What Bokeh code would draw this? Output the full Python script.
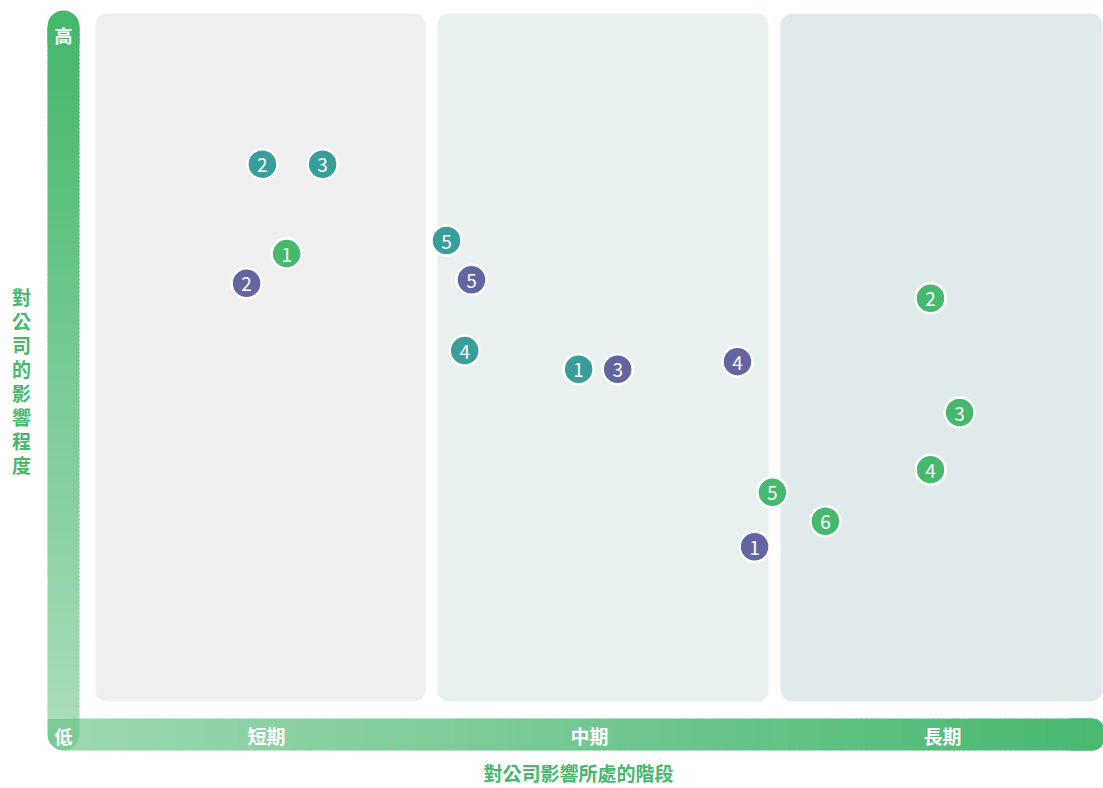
from bokeh.plotting import figure
from bokeh.models import Range1d
from bokeh.embed import file_html
from bokeh.resources import INLINE
from bokeh.core.properties import value

# ---------------- data ----------------
periods = ["短期", "中期", "長期"]
period_label_t = [0.517, 1.461, 2.492]
y_title = "對公司的影響程度"
x_title = "對公司影響所處的階段"
high_label = "高"
low_label = "低"

# time position (0-1 短期, 1-2 中期, 2-3 長期), impact level (0 low - 10 high)
teal_labels = ["1", "2", "3", "4", "5"]
teal_t = [1.429, 0.505, 0.681, 1.096, 1.043]
teal_v = [4.83, 7.81, 7.81, 5.10, 6.70]

purple_labels = ["1", "2", "3", "4", "5"]
purple_t = [1.943, 0.459, 1.543, 1.893, 1.116]
purple_v = [2.25, 6.08, 4.83, 4.94, 6.13]

green_labels = ["1", "2", "3", "4", "5", "6"]
green_t = [0.576, 2.457, 2.542, 2.457, 1.995, 2.150]
green_v = [6.51, 5.86, 4.20, 3.37, 3.04, 2.62]

TEAL = "#379e9b"
PURPLE = "#6365a1"
GREEN = "#46b96e"
FONT = "Noto Sans CJK TC"

# ---------------- layout helpers (canvas pixel -> data units) ----------------
X0, XU = 89.0, 342.3
Y0, YU = 701.0, 68.8


def T(px):
    return (px - X0) / XU


def V(py):
    return (Y0 - py) / YU


W, H = 1103, 788
p = figure(width=W, height=H, output_backend="svg", toolbar_location=None,
           x_range=Range1d(T(0), T(W)), y_range=Range1d(V(H), V(0)),
           min_border=0, outline_line_color=None, background_fill_color="white")
p.axis.visible = False
p.grid.visible = False


def hexrgb(h):
    h = h.lstrip("#")
    return tuple(int(h[i:i + 2], 16) for i in (0, 2, 4))


def lerp(c1, c2, f):
    a, b = hexrgb(c1), hexrgb(c2)
    return "#%02x%02x%02x" % tuple(round(a[i] + (b[i] - a[i]) * f) for i in range(3))


# panels
panel_l = [95, 437, 780]
panel_r = [425, 768, 1102]
panel_c = ["#efefef", "#e9f0f0", "#e1eaeb"]
p.quad(left=[T(v) for v in panel_l], right=[T(v) for v in panel_r],
       top=[V(13)] * 3, bottom=[V(701)] * 3, fill_color=panel_c,
       line_color=None, border_radius=12)

# horizontal gradient bar
H_LEFT, H_RIGHT = "#9dd8b0", "#4ab872"
hy_t, hy_b = 718, 750
p.quad(left=[T(1060)], right=[T(1103)], top=[V(hy_t)], bottom=[V(hy_b)],
       fill_color=H_RIGHT, line_color=None, border_radius=10)
n = 200
xs0, xs1 = 63, 1092
step = (xs1 - xs0) / n
L, R, C = [], [], []
for i in range(n):
    a = xs0 + i * step
    L.append(T(a))
    R.append(T(a + step + 1.0))
    C.append(lerp(H_LEFT, H_RIGHT, (i + 0.5) / n))
p.quad(left=L, right=R, top=[V(hy_t)] * n, bottom=[V(hy_b)] * n,
       fill_color=C, line_color=None)

# vertical gradient bar
V_TOP, V_BOT = "#45b86c", "#a8dcba"
vx_l, vx_r = 47, 79
p.quad(left=[T(vx_l)], right=[T(vx_r)], top=[V(10)], bottom=[V(44)],
       fill_color=V_TOP, line_color=None, border_radius=(16, 16, 0, 0))
m = 170
ys0, ys1 = 26, 718
step = (ys1 - ys0) / m
Tt, Bb, C = [], [], []
for i in range(m):
    a = ys0 + i * step
    Tt.append(V(a))
    Bb.append(V(min(a + step + 1.0, ys1)))
    C.append(lerp(V_TOP, V_BOT, (i + 0.5) / m))
p.quad(left=[T(vx_l)] * m, right=[T(vx_r)] * m, top=Tt, bottom=Bb,
       fill_color=C, line_color=None)
# overlap corner
p.quad(left=[T(vx_l)], right=[T(vx_r)], top=[V(718)], bottom=[V(750)],
       fill_color="#7ccb97", line_color=None, border_radius=(0, 0, 16, 16))

# bar labels
p.text(x=[T(63)], y=[V(34)], text=[high_label], text_align="center",
       text_baseline="middle", text_color="white", text_font=value(FONT),
       text_font_size="18px", text_font_style="bold")
p.text(x=[T(63)], y=[V(735)], text=[low_label], text_align="center",
       text_baseline="middle", text_color="white", text_font=value(FONT),
       text_font_size="18px", text_font_style="bold")
p.text(x=period_label_t, y=[V(735)] * 3, text=periods, text_align="center",
       text_baseline="middle", text_color="white", text_font=value(FONT),
       text_font_size="19px", text_font_style="bold")

# axis titles
chars = list(y_title)
p.text(x=[T(21)] * len(chars), y=[V(296 + 24 * i) for i in range(len(chars))],
       text=chars, text_align="center", text_baseline="middle",
       text_color=GREEN, text_font=value(FONT), text_font_size="19px",
       text_font_style="bold")
p.text(x=[T(578)], y=[V(772)], text=[x_title], text_align="center",
       text_baseline="middle", text_color=GREEN, text_font=value(FONT),
       text_font_size="19px", text_font_style="bold")

# points
for ts, vs, labs, col in [(teal_t, teal_v, teal_labels, TEAL),
                          (purple_t, purple_v, purple_labels, PURPLE),
                          (green_t, green_v, green_labels, GREEN)]:
    p.scatter(x=ts, y=vs, size=30, fill_color=col, line_color="white",
              line_width=2.5)
    p.text(x=ts, y=vs, text=labs, text_align="center", text_baseline="middle",
           text_color="white", text_font=value(FONT), text_font_size="19px",
           y_offset=1)

open("out.html", "w").write(file_html(p, INLINE))
